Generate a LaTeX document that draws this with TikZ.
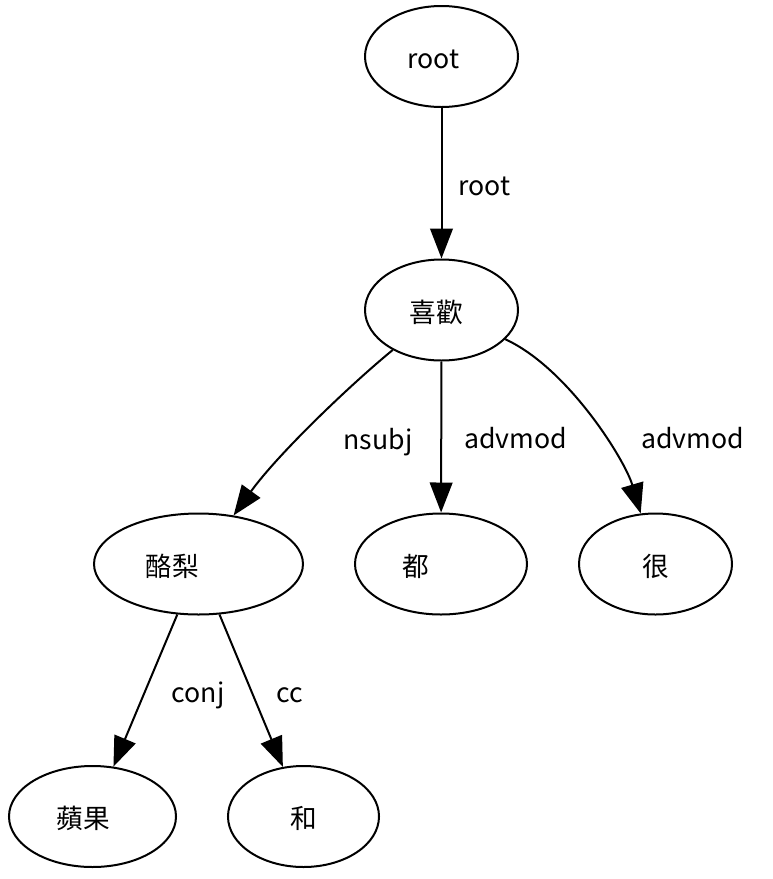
\documentclass[tikz,border=0pt]{standalone}
\usepackage{fontspec}
\setmainfont{Noto Sans CJK TC}
\usetikzlibrary{shapes.geometric,arrows.meta}
\newcommand{\shtext}[2]{\makebox[0pt]{\kern#1\relax#2}}
\begin{document}
\begin{tikzpicture}[x=0.75pt,y=-0.75pt,
  tok/.style={ellipse,draw,line width=1.5pt,inner sep=0pt,
    minimum height=75.75pt,text height=20pt,text depth=2pt,
    font=\fontsize{20}{24}\selectfont},
  lbl/.style={anchor=base,inner sep=0pt,font=\fontsize{20}{24}\selectfont},
  dep/.style={line width=1.5pt,-{Triangle[length=22.5pt,width=17pt]}}]
\useasboundingbox (0,0) rectangle (773,879);
% tokens
\node[tok,minimum width=114.75pt] (root) at (441.5,56.5) {\shtext{-12pt}{root}};
\node[tok,minimum width=114.75pt] (xh) at (441.5,310) {\shtext{-8pt}{喜歡}};
\node[tok,minimum width=156.75pt] (lr) at (198.5,564) {\shtext{-39pt}{酪梨}};
\node[tok,minimum width=129pt] (dou) at (441,564) {\shtext{-38pt}{都}};
\node[tok,minimum width=114.75pt] (hen) at (655.5,564) {很};
\node[tok,minimum width=125.25pt] (pg) at (92.5,816.5) {\shtext{-13.5pt}{蘋果}};
\node[tok,minimum width=113.25pt] (he) at (303.5,816.5) {和};
% edges
\draw[dep] (root) -- (xh);
\draw[dep] (xh) .. controls (350,385) and (278,454) .. (lr);
\draw[dep] (xh) -- (dou);
\draw[dep] (xh) .. controls (568,368) and (625,460) .. (hen);
\draw[dep] (lr) -- (pg);
\draw[dep] (lr) -- (he);
% edge labels
\node[lbl] (l1) at (484.5,195) {root};
\node[lbl] (l2) at (378,449) {nsubj};
\node[lbl] (l3) at (515.5,448) {advmod};
\node[lbl] (l4) at (692.5,448) {advmod};
\node[lbl] (l5) at (198,702) {conj};
\node[lbl] (l6) at (289.5,702) {cc};
\end{tikzpicture}
\end{document}
